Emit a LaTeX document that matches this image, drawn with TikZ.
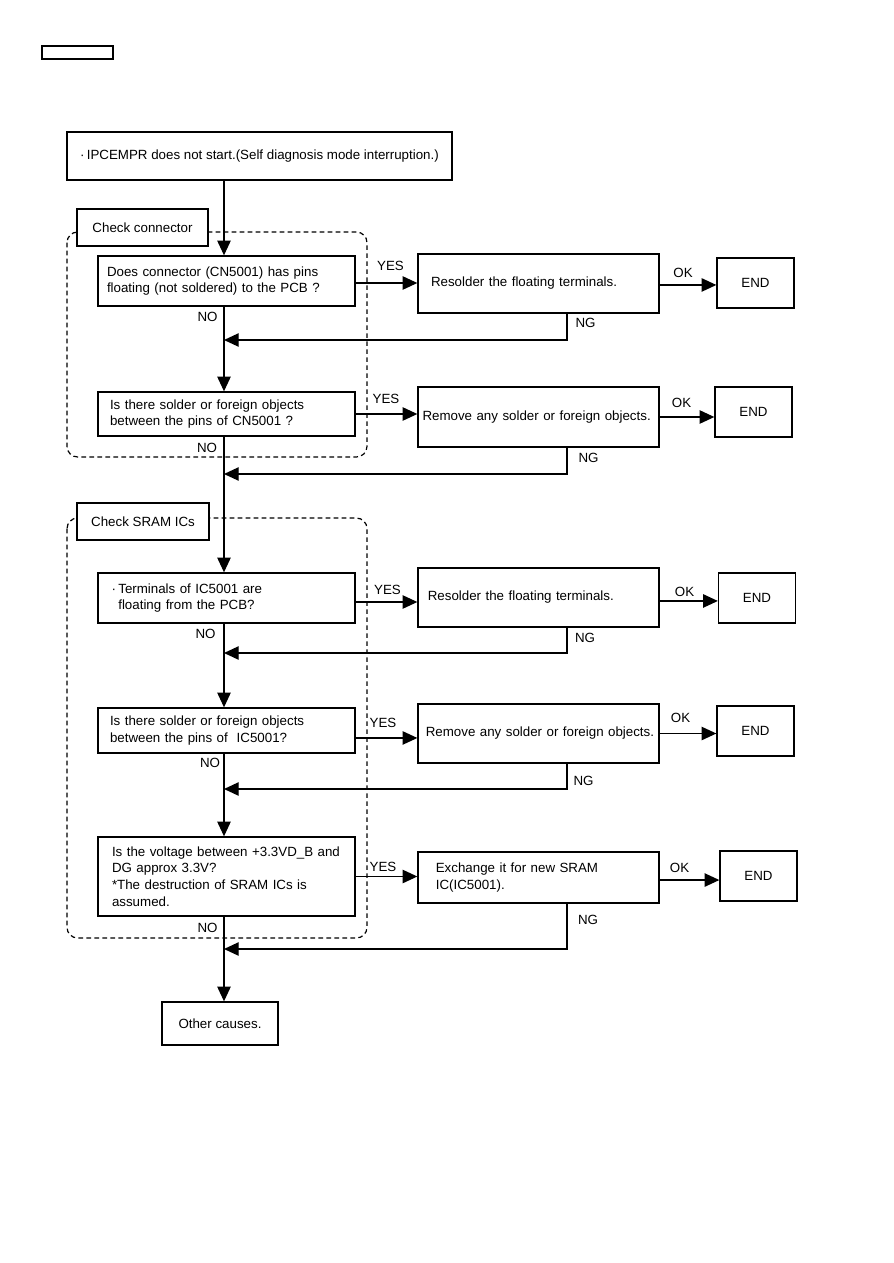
\documentclass[tikz,border=0pt]{standalone}
\usepackage{fontspec}
\setmainfont{Liberation Sans}
\usetikzlibrary{arrows.meta}

\begin{document}
\begin{tikzpicture}[x=0.75pt,y=-0.75pt,font=\fontsize{10}{12.5}\selectfont,
  box/.style={draw,line width=1pt,inner sep=0pt},
  qbox/.style={box,text width=179.25pt,inner xsep=6.75pt,align=left},
  abox/.style={box,text width=174pt,inner xsep=3.375pt,align=left},
  endbox/.style={box,minimum width=57.75pt,minimum height=37.5pt},
  grouplbl/.style={box,fill=white,minimum width=98.25pt,minimum height=27.75pt},
  grp/.style={line width=0.9pt,dash pattern=on 3.5pt off 2.5pt,rounded corners=8pt},
  arr/.style={line width=1pt,-{Triangle[length=11pt,width=10pt]}},
  lbl/.style={inner sep=0pt}]
\useasboundingbox (0,0) rectangle (893,1263);

\coordinate (spine) at (224,0);
\coordinate (ngx) at (567,0);

% dashed groups
\draw[grp] (67,232) rectangle (367,457);
\draw[grp] (67,518) rectangle (367,938);

\node[box,minimum width=53.25pt,minimum height=9.75pt] (hdr) at (77.5,52.5) {};
\node[box,minimum width=288.75pt,minimum height=36pt] (start) at (259.5,156) {·\,IPCEMPR does not start.(Self diagnosis mode interruption.)};

\node[grouplbl] (conlbl) at (142.5,227.5) {Check connector};
\node[grouplbl,minimum width=99pt] (sramlbl) at (143,521.5) {Check SRAM ICs};

% questions
\node[qbox,minimum height=37.5pt] (q1) at (226.5,281) {Does connector (CN5001) has pins\\floating (not soldered) to the PCB ?};
\node[qbox,minimum height=33pt] (q2) at (226.5,414) {\hspace*{2.25pt}Is there solder or foreign objects\\\hspace*{2.25pt}between the pins of CN5001 ?};
\node[qbox,minimum height=37.5pt] (q3) at (226.5,598) {\hspace*{3.5pt}·\,Terminals of IC5001 are\\\hspace*{3.5pt}\phantom{·\,}floating from the PCB?};
\node[qbox,minimum height=33.75pt] (q4) at (226.5,730.5) {\hspace*{2.25pt}Is there solder or foreign objects\\\hspace*{2.25pt}between the pins of\ \ IC5001?};
\node[qbox,minimum height=59.25pt] (q5) at (226.5,876.5) {\hspace*{3.75pt}Is the voltage between +3.3VD\_B and\\\hspace*{3.75pt}DG approx 3.3V?\\\hspace*{3.75pt}*The destruction of SRAM ICs is\\\hspace*{3.75pt}assumed.};
\node[box,minimum width=87pt,minimum height=32.25pt] (other) at (220,1023.5) {Other causes.};

% actions
\node[abox,minimum height=44.25pt] (a1) at (538.5,283.5) {\hspace*{6.4pt}Resolder the floating terminals.};
\node[abox,minimum height=45pt] (a2) at (538.5,417) {Remove any solder or foreign objects.};
\node[abox,minimum height=44.25pt] (a3) at (538.5,597.5) {\hspace*{4pt}Resolder the floating terminals.};
\node[abox,minimum height=44.25pt] (a4) at (538.5,733.5) {\hspace*{2.5pt}Remove any solder or foreign objects.};
\node[abox,minimum height=38.25pt] (a5) at (538.5,877.5) {\hspace*{10pt}Exchange it for new SRAM\\\hspace*{10pt}IC(IC5001).};

\node[endbox] (e1) at (755.5,283) {END};
\node[endbox] (e2) at (753.5,412) {END};
\node[endbox] (e3) at (757,598) {END};
\node[endbox] (e4) at (755.5,731) {END};
\node[endbox] (e5) at (758.5,876) {END};

% return points on the spine
\coordinate (r1) at (224,340);
\coordinate (r2) at (224,474);
\coordinate (r3) at (224,653);
\coordinate (r4) at (224,789);
\coordinate (r5) at (224,949);

% spine
\draw[arr] (start.south -| spine) -- (q1.north -| spine);
\draw[arr] (q1.south -| spine) -- (q2.north -| spine);
\draw[arr] (q2.south -| spine) -- (q3.north -| spine);
\draw[arr] (q3.south -| spine) -- (q4.north -| spine);
\draw[arr] (q4.south -| spine) -- (q5.north -| spine);
\draw[arr] (q5.south -| spine) -- (other.north -| spine);

% YES
\draw[arr] ([yshift=-1.5pt]q1.east) -- ([yshift=-1.5pt]q1.east -| a1.west);
\draw[arr] (q2.east) -- (q2.east -| a2.west);
\draw[arr] ([yshift=-3pt]q3.east) -- ([yshift=-3pt]q3.east -| a3.west);
\draw[arr] ([yshift=-5.6pt]q4.east) -- ([yshift=-5.6pt]q4.east -| a4.west);
\draw[arr] (q5.east) -- (q5.east -| a5.west);

% OK
\draw[arr] ([yshift=-1.1pt]a1.east) -- ([yshift=-1.1pt]a1.east -| e1.west);
\draw[arr] (a2.east) -- (a2.east -| e2.west);
\draw[arr] ([yshift=-2.6pt]a3.east) -- ([yshift=-2.6pt]a3.east -| e3.west);
\draw[arr] (a4.east) -- (a4.east -| e4.west);
\draw[arr] ([yshift=-1.9pt]a5.east) -- ([yshift=-1.9pt]a5.east -| e5.west);

% NG
\draw[arr] (a1.south -| ngx) |- (r1);
\draw[arr] (a2.south -| ngx) |- (r2);
\draw[arr] (a3.south -| ngx) |- (r3);
\draw[arr] (a4.south -| ngx) |- (r4);
\draw[arr] (a5.south -| ngx) |- (r5);

\node[lbl] (no1) at (207.5,317) {NO};
\node[lbl] (no2) at (207,447.5) {NO};
\node[lbl] (no3) at (205.5,634) {NO};
\node[lbl] (no4) at (210,762.5) {NO};
\node[lbl] (no5) at (207.5,927.5) {NO};

\node[lbl] (yes1) at (390.5,265.5) {YES};
\node[lbl] (yes2) at (386,398.5) {YES};
\node[lbl] (yes3) at (387.5,589.5) {YES};
\node[lbl] (yes4) at (383,722.5) {YES};
\node[lbl] (yes5) at (383,867) {YES};

\node[lbl] (ok1) at (683,273) {OK};
\node[lbl] (ok2) at (681.5,403) {OK};
\node[lbl] (ok3) at (684.5,591.5) {OK};
\node[lbl] (ok4) at (680.5,718) {OK};
\node[lbl] (ok5) at (679.5,867.5) {OK};

\node[lbl] (ng1) at (585.5,323) {NG};
\node[lbl] (ng2) at (588.5,458) {NG};
\node[lbl] (ng3) at (585,638) {NG};
\node[lbl] (ng4) at (583.5,780.5) {NG};
\node[lbl] (ng5) at (588,919.5) {NG};
\end{tikzpicture}
\end{document}
